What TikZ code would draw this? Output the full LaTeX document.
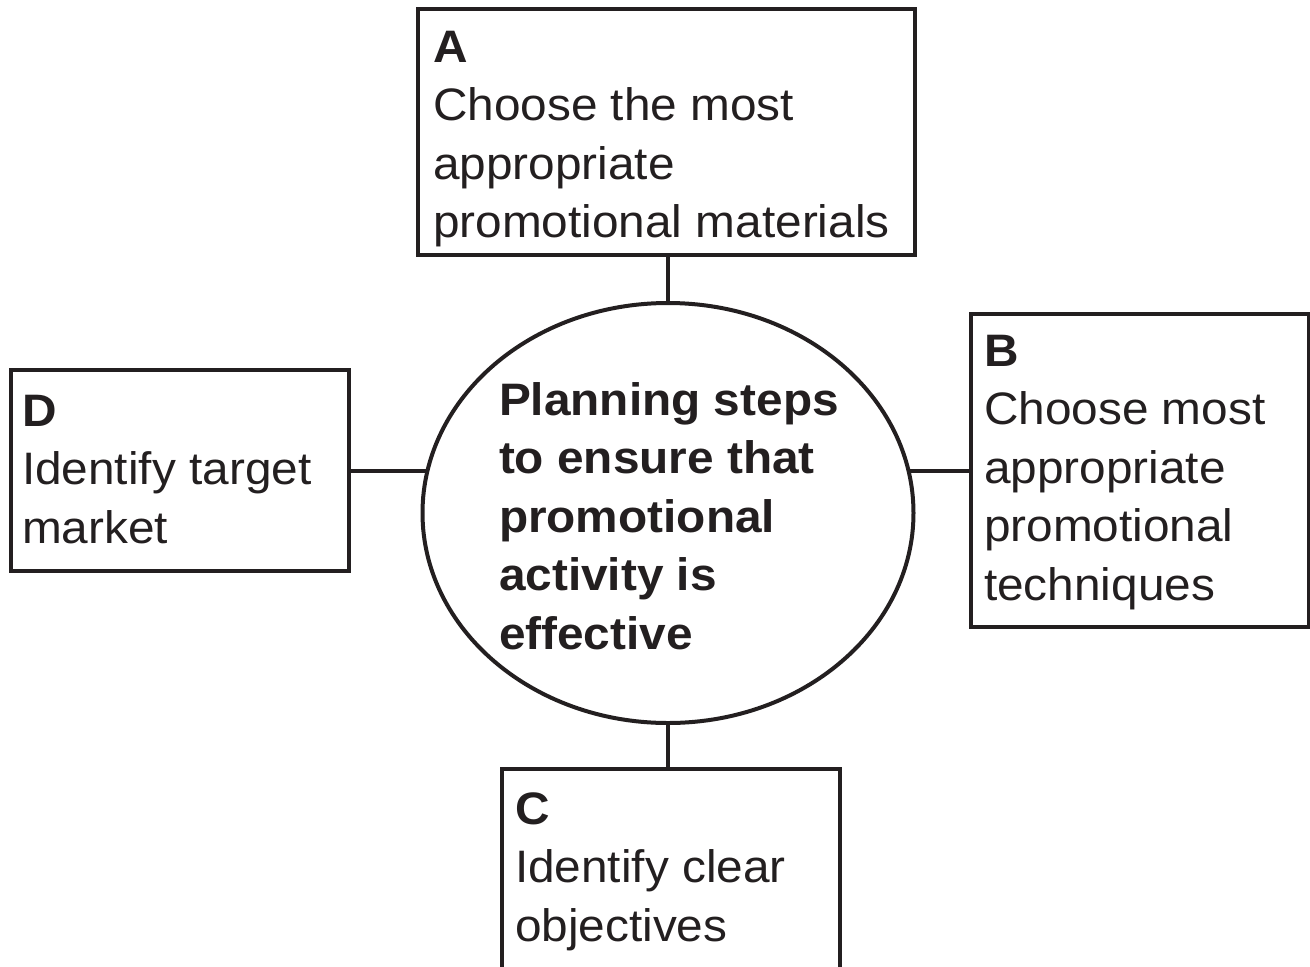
\documentclass[tikz,border=0pt]{standalone}
\usepackage{fontspec}
\setmainfont{Liberation Sans}[FakeStretch=1.05]
\usetikzlibrary{shapes.geometric}
\definecolor{ink}{RGB}{35,31,32}
\begin{document}
\begin{tikzpicture}[x=1pt,y=-1pt,
  every node/.style={inner sep=0pt,outer sep=0pt},
  stepbox/.style={draw=ink,line width=4pt,rectangle},
  hub/.style={draw=ink,line width=4pt,ellipse},
  % multi-line labels are anchored at the baseline of their last line
  label/.style={text=ink,align=left,anchor=base west,
    font=\fontsize{45.5}{58.5}\selectfont},
  link/.style={draw=ink,line width=4pt}]
\useasboundingbox (0,0) rectangle (1310,967);
\clip (0,0) rectangle (1310,967);

% central ellipse
\node[hub,minimum width=491pt,minimum height=420pt] (E) at (668,513) {};
\node[label,font=\fontsize{45.5}{58.5}\selectfont\bfseries] (Etext) at (499,649)
  {Planning steps\\to ensure that\\promotional\\activity is\\effective};

% surrounding steps
\node[stepbox,minimum width=497pt,minimum height=246pt] (A) at (666.5,132) {};
\node[label] (Atext) at (433,237.5)
  {\textbf{A}\\Choose the most\\appropriate\\promotional materials};

\node[stepbox,minimum width=337.5pt,minimum height=313pt] (B) at (1139.75,470.5) {};
\node[label] (Btext) at (984,600)
  {\textbf{B}\\Choose most\\appropriate\\promotional\\techniques};

\node[stepbox,minimum width=338pt,minimum height=201pt] (D) at (180,470.5) {};
\node[label] (Dtext) at (22,543)
  {\textbf{D}\\Identify target\\market};

\node[stepbox,minimum width=338pt,minimum height=300pt] (C) at (671,919) {};
\node[label] (Ctext) at (515,941)
  {\textbf{C}\\Identify clear\\objectives};

% connectors
\draw[link] (E.north |- A.south) -- (E.north);
\draw[link] (E.south) -- (E.south |- C.north);
\draw[link] (D.east) -- (D.east -| E.170);
\draw[link] (B.west) -- (B.west -| E.10);
\end{tikzpicture}
\end{document}
